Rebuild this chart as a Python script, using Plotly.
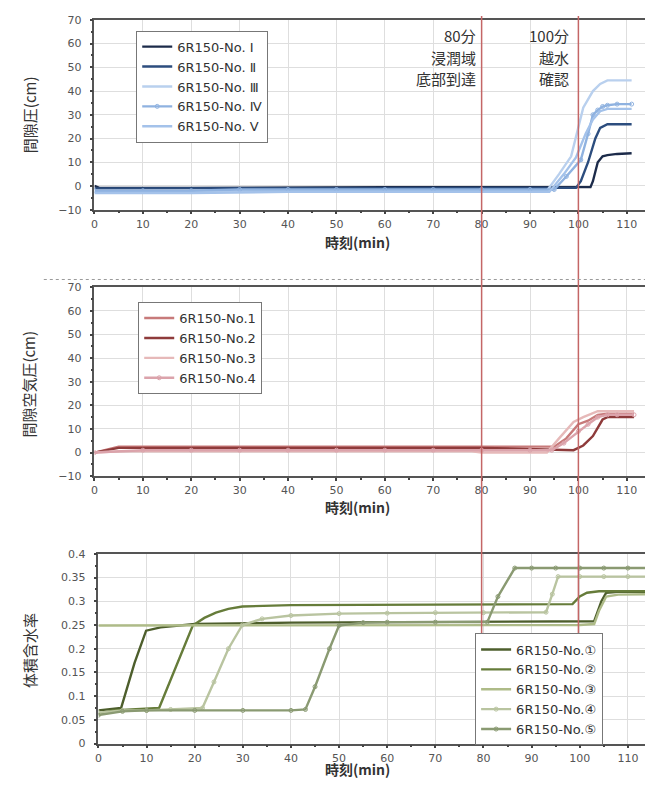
import plotly.graph_objects as go

# ---------------- Data ----------------
# Panel 1: 間隙圧 (cm)
top_names = ["6R150-No. Ⅰ", "6R150-No. Ⅱ", "6R150-No. Ⅲ", "6R150-No. Ⅳ", "6R150-No. Ⅴ"]
t_top_1 = [0, 1, 20, 40, 60, 80, 100, 102.5, 103, 104, 105, 106, 108, 111]
v_top_1 = [0, -0.8, -0.8, -0.5, -0.5, -0.5, -0.5, -0.5, 2, 10, 12.5, 13, 13.5, 13.8]
t_top_2 = [0, 20, 40, 60, 80, 99.5, 100.5, 102, 103.5, 104.5, 106, 111]
v_top_2 = [-1, -1, -0.8, -0.8, -0.8, -0.8, 2, 10, 20, 24.5, 26, 26]
t_top_3 = [0, 20, 40, 60, 80, 93.5, 96, 98.5, 101, 103, 104.5, 106, 111]
v_top_3 = [-2.5, -2.5, -2, -2, -2, -2, 5, 12.5, 33, 40, 43, 44.5, 44.5]
t_top_4 = [0, 10, 20, 30, 40, 50, 60, 70, 80, 90, 95, 97.5, 100.5, 102, 103, 104, 105, 106, 108, 111]
v_top_4 = [-2, -2, -2, -1.5, -1.5, -1.5, -1.5, -1.5, -1.5, -1.5, -1.5, 4, 11, 22, 30, 32, 33.5, 34, 34.5, 34.5]
t_top_5 = [0, 20, 40, 60, 80, 94, 97, 99.5, 101.5, 103, 104.5, 106, 111]
v_top_5 = [-3, -3, -2.5, -2.5, -2.5, -2.5, 5, 12, 22, 28, 31.5, 32.5, 32.5]

# Panel 2: 間隙空気圧 (cm)
mid_names = ["6R150-No.1", "6R150-No.2", "6R150-No.3", "6R150-No.4"]
t_mid_1 = [0, 5, 20, 40, 60, 80, 95, 97.5, 100, 102, 104, 106, 111.5]
v_mid_1 = [0, 2.5, 2.5, 2.5, 2.5, 2.5, 2.5, 6, 12, 13.5, 16, 16.5, 16.5]
t_mid_2 = [0, 5, 20, 40, 60, 80, 99, 101, 103, 105, 106, 111.5]
v_mid_2 = [0, 2, 2, 2, 2, 2, 1, 3, 7, 14, 15, 15]
t_mid_3 = [0, 5, 20, 40, 60, 78, 80, 93.5, 96, 99, 101, 104, 106, 111.5]
v_mid_3 = [0, 0.5, 0.5, 0.5, 0.5, 0.5, 0, 0, 6, 13, 15, 17.5, 17.5, 17.5]
t_mid_4 = [0, 10, 20, 30, 40, 50, 60, 70, 80, 90, 94.5, 97, 100, 102, 104, 106, 108, 111.5]
v_mid_4 = [0, 1, 1, 1, 1, 1, 1, 1, 1, 1, 1, 4, 9, 12, 15, 16, 16, 16]

# Panel 3: 体積含水率
bot_names = ["6R150-No.①", "6R150-No.②", "6R150-No.③", "6R150-No.④", "6R150-No.⑤"]
t_bot_1 = [0, 4.7, 7.5, 9.9, 12.9, 20, 40, 60, 80, 100, 103, 104.5, 105.5, 108, 114.5]
v_bot_1 = [0.07, 0.075, 0.17, 0.238, 0.245, 0.252, 0.255, 0.256, 0.256, 0.257, 0.258, 0.3, 0.318, 0.32, 0.32]
t_bot_2 = [0, 3, 12.6, 16, 19.6, 22, 24.4, 27, 29.9, 40, 60, 80, 98.5, 100, 101.5, 104, 114.5]
v_bot_2 = [0.062, 0.07, 0.075, 0.16, 0.249, 0.265, 0.276, 0.284, 0.289, 0.292, 0.293, 0.294, 0.294, 0.31, 0.318, 0.321, 0.321]
t_bot_3 = [0, 20, 40, 60, 80, 100, 103, 104, 105.5, 108, 114.5]
v_bot_3 = [0.249, 0.249, 0.25, 0.25, 0.25, 0.25, 0.252, 0.28, 0.31, 0.314, 0.315]
t_bot_4 = [0, 5, 10, 15, 21.6, 24, 27, 29.9, 34, 40, 50, 60, 70, 80, 93, 94.3, 95.5, 100, 105, 110, 114.5]
v_bot_4 = [0.065, 0.07, 0.07, 0.072, 0.075, 0.13, 0.2, 0.25, 0.263, 0.27, 0.274, 0.275, 0.276, 0.276, 0.277, 0.315, 0.352, 0.352, 0.352, 0.352, 0.352]
t_bot_5 = [0, 5, 10, 20, 30, 40, 43, 45, 48, 50, 55, 60, 70, 80.8, 83, 86.5, 90, 95, 100, 105, 110, 114.5]
v_bot_5 = [0.06, 0.068, 0.07, 0.07, 0.07, 0.07, 0.072, 0.12, 0.2, 0.249, 0.255, 0.256, 0.256, 0.256, 0.31, 0.37, 0.37, 0.37, 0.37, 0.37, 0.37, 0.37]

# Event markers (min) and their labels
event_times = [80, 100]
event_label_80 = ["80分", "浸潤域", "底部到達"]
event_label_100 = ["100分", "越水", "確認"]

x_ticks = [0, 10, 20, 30, 40, 50, 60, 70, 80, 90, 100, 110]

# ---------------- Styles ----------------
top_colors = ["#1c2b4a", "#2c4d7e", "#b9d0ee", "#8fb2e0", "#a4c2ea"]
top_marker = [False, False, False, True, False]
mid_colors = ["#c77a7a", "#8e3b3b", "#e6b9b9", "#dba3ab"]
mid_marker = [False, False, False, True]
bot_colors = ["#4d5e2c", "#667c3a", "#aebb88", "#b9c4a0", "#8a9a72"]
bot_marker = [False, False, False, True, True]

# page body has an 8px margin at top/left: shift the figure accordingly
PAGE_W, PAGE_H, OFF = 653, 787, 8
W, H = PAGE_W - OFF, PAGE_H - OFF
def px(x):
    return min(1.0, max(0.0, (x - OFF) / W))
def py(y):
    return min(1.0, max(0.0, 1 - (y - OFF) / H))

fig = go.Figure()

def add_series(ts, vs, names, colors, markers, xa, ya, leg):
    for t, v, n, c, m in zip(ts, vs, names, colors, markers):
        fig.add_trace(go.Scatter(
            x=t, y=v, name=n, xaxis=xa, yaxis=ya, legend=leg,
            mode="lines+markers" if m else "lines",
            line=dict(color=c, width=2.4),
            marker=dict(symbol="circle-open", size=4, color=c, line=dict(width=1)),
        ))

add_series([t_top_1, t_top_2, t_top_3, t_top_4, t_top_5],
           [v_top_1, v_top_2, v_top_3, v_top_4, v_top_5],
           top_names, top_colors, top_marker, "x", "y", "legend")
add_series([t_mid_1, t_mid_2, t_mid_3, t_mid_4],
           [v_mid_1, v_mid_2, v_mid_3, v_mid_4],
           mid_names, mid_colors, mid_marker, "x2", "y2", "legend2")
add_series([t_bot_1, t_bot_2, t_bot_3, t_bot_4, t_bot_5],
           [v_bot_1, v_bot_2, v_bot_3, v_bot_4, v_bot_5],
           bot_names, bot_colors, bot_marker, "x3", "y3", "legend3")

tickfont = dict(family="DejaVu Sans", size=11, color="#555")
axis_common = dict(
    showline=True, linecolor="#555", linewidth=1.5, mirror=True,
    showgrid=True, gridcolor="#dedede", gridwidth=1,
    ticks="outside", ticklen=3, tickcolor="#444", tickwidth=1.5,
    tickfont=tickfont, zeroline=False,
)

def xaxis(dom, anchor, rng):
    return dict(axis_common, domain=dom, anchor=anchor, range=rng,
                tickvals=x_ticks, minor=dict(dtick=5, ticks="outside", ticklen=2, tickcolor="#444", showgrid=False))

def yaxis(dom, anchor, rng, dtick, mdtick):
    return dict(axis_common, domain=dom, anchor=anchor, range=rng, dtick=dtick, tick0=0,
                ticklabelstandoff=6,
                minor=dict(dtick=mdtick, ticks="outside", ticklen=2, tickcolor="#444", showgrid=False))

fig.update_layout(
    width=W, height=H, margin=dict(l=0, r=0, t=0, b=0),
    paper_bgcolor="white", plot_bgcolor="white",
    xaxis=xaxis([px(91), px(650)], "y", [0, 114.8]),
    yaxis=yaxis([py(207), py(14)], "x", [-10, 70], 10, 5),
    xaxis2=xaxis([px(91), px(650)], "y2", [0, 114.8]),
    yaxis2=yaxis([py(478), py(286)], "x2", [-10, 70], 10, 5),
    xaxis3=xaxis([px(95), px(650)], "y3", [0, 114.6]),
    yaxis3=yaxis([py(750), py(557)], "x3", [0, 0.4], 0.05, 0.025),
)

legfont = dict(family="DejaVu Sans", size=13, color="#333")
legend_common = dict(xanchor="left", yanchor="top", bgcolor="white",
                     bordercolor="#777", borderwidth=1, font=legfont,
                     itemwidth=30, tracegroupgap=0)
fig.update_layout(
    legend=dict(legend_common, x=px(133), y=py(25)),
    legend2=dict(legend_common, x=px(135), y=py(301)),
    legend3=dict(legend_common, x=px(474), y=py(638)),
)

# vertical event lines spanning all panels
for et in event_times:
    fig.add_shape(type="line", xref="x", yref="paper", x0=et, x1=et,
                  y0=py(750), y1=py(10), line=dict(color="#c46666", width=1.5))

# dotted separator between panels 1 and 2
fig.add_shape(type="line", xref="paper", yref="paper", x0=px(40), x1=1,
              y0=py(278), y1=py(278), line=dict(color="#9a9a9a", width=1, dash="dot"))

cjk = "Noto Sans CJK JP"
label_ys = [30, 52, 74]
for lines, xr in [(event_label_80, 476), (event_label_100, 569)]:
    for txt, yy in zip(lines, label_ys):
        fig.add_annotation(text=txt, xref="paper", yref="paper", x=px(xr), y=py(yy),
                           xanchor="right", yanchor="middle", showarrow=False, borderpad=0,
                           font=dict(family=cjk, size=15, color="#333"))

# x axis titles (bottom edges placed just above the next element)
for yy in [251, 521, 787]:
    fig.add_annotation(text="<b>時刻(min)</b>", xref="paper", yref="paper", x=px(356), y=py(yy),
                       xanchor="center", yanchor="bottom", showarrow=False, borderpad=0,
                       font=dict(family=cjk, size=14, color="#333"))

# y axis titles
for txt, yy in [("間隙圧(cm)", 110), ("間隙空気圧(cm)", 384), ("体積含水率", 655)]:
    fig.add_annotation(text=txt, xref="paper", yref="paper", x=px(25), y=py(yy),
                       xanchor="center", yanchor="middle", showarrow=False, textangle=-90,
                       font=dict(family=cjk, size=15, color="#333"))

fig.write_html("out.html")
